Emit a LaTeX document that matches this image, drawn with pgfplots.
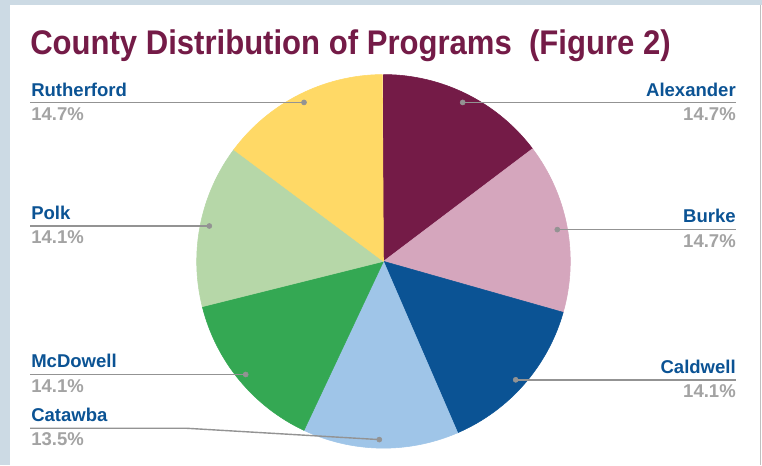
\documentclass[border=0pt]{standalone}
\usepackage{pgfplots}
\usepackage{pgfplotstable}
\pgfplotsset{compat=1.18}
\usepackage{fontspec}
\setmainfont{Liberation Sans}
\definecolor{framebg}{HTML}{CCDAE4}
\definecolor{titlec}{HTML}{741B47}
\definecolor{namec}{HTML}{0B5394}
\definecolor{pctc}{HTML}{A3A3A3}
\definecolor{linec}{HTML}{939393}
\definecolor{c0}{HTML}{741B47}
\definecolor{c1}{HTML}{D5A6BD}
\definecolor{c2}{HTML}{0B5394}
\definecolor{c3}{HTML}{9FC5E8}
\definecolor{c4}{HTML}{34A853}
\definecolor{c5}{HTML}{B6D7A8}
\definecolor{c6}{HTML}{FFD966}
\pgfplotstableread{
county pct
Alexander 14.7
Burke 14.7
Caldwell 14.1
Catawba 13.5
McDowell 14.1
Polk 14.1
Rutherford 14.7
}\piedata
\begin{document}
\begin{tikzpicture}
\def\cum{0}%
\pgfplotsforeachungrouped \i in {0,...,6}{%
  \pgfplotstablegetelem{\i}{pct}\of\piedata
  \pgfmathsetmacro\s{90-3.6*\cum}%
  \pgfmathsetmacro\cum{\cum+\pgfplotsretval}%
  \pgfmathsetmacro\e{90-3.6*\cum}%
  \expandafter\xdef\csname sa\i\endcsname{\s}%
  \expandafter\xdef\csname ea\i\endcsname{\e}%
}%
\begin{axis}[scale only axis, width=571.5pt, height=348pt,
  xmin=0, xmax=762, ymin=0, ymax=464, y dir=reverse,
  hide axis, clip=false]
\fill[framebg] (axis cs:0,0) rectangle (axis cs:762,464);
\fill[white] (axis cs:10,4.5) rectangle (axis cs:762,464);
\draw[gray!50, line width=0.8pt] (axis cs:760.5,4.5) -- (axis cs:760.5,464);
\pgfplotsinvokeforeach{0,...,6}{%
  \filldraw[fill=c#1, draw=c#1, line width=0.4pt, line join=round] (axis cs:383.5,261) -- ++({\csname sa#1\endcsname}:140.1pt)
    arc[start angle={\csname sa#1\endcsname}, end angle={\csname ea#1\endcsname}, radius=140.1pt] -- cycle;
}
% leader lines
\addplot[linec, line width=1.05pt, no markers] coordinates {(30,102.3) (304,102.3)};
\addplot[linec, line width=1.05pt, no markers] coordinates {(30,225.7) (209.3,225.7)};
\addplot[linec, line width=1.05pt, no markers] coordinates {(30,374) (245.7,374)};
\addplot[linec, line width=1.05pt, no markers] coordinates {(30,427.7) (186.7,427.7) (379.3,439)};
\addplot[linec, line width=1.05pt, no markers] coordinates {(462.7,102.3) (736,102.3)};
\addplot[linec, line width=1.05pt, no markers] coordinates {(557.3,229.3) (736,229.3)};
\addplot[linec, line width=1.05pt, no markers] coordinates {(515.7,379.3) (736,379.3)};
\addplot[only marks, mark=*, mark size=1.9pt, linec, mark options={draw=linec, fill=linec}] coordinates {
(304,102.3) (209.3,225.7) (245.7,374) (379.3,439) (462.7,102.3) (557.3,229.3) (515.7,379.3)};
% title
\node[anchor=base west, text=titlec, font=\fontsize{23.3}{28}\selectfont\bfseries, inner sep=0pt, yscale=1.1]
  at (axis cs:30,54.5) {County Distribution of Programs\ \ (Figure 2)};
% labels
\tikzset{nm/.style={inner sep=0pt, text=namec, font=\fontsize{13.9}{16}\selectfont\bfseries},
         pc/.style={inner sep=0pt, text=pctc, font=\fontsize{13.9}{16}\selectfont\bfseries}}
\node[nm, anchor=base west] at (axis cs:31,96) {Rutherford};
\node[pc, anchor=base west] at (axis cs:31,120) {14.7\%};
\node[nm, anchor=base west] at (axis cs:31,219.3) {Polk};
\node[pc, anchor=base west] at (axis cs:31,243) {14.1\%};
\node[nm, anchor=base west] at (axis cs:31,367.3) {McDowell};
\node[pc, anchor=base west] at (axis cs:31,391.7) {14.1\%};
\node[nm, anchor=base west] at (axis cs:31,421) {Catawba};
\node[pc, anchor=base west] at (axis cs:31,445) {13.5\%};
\node[nm, anchor=base east] at (axis cs:736,96) {Alexander};
\node[pc, anchor=base east] at (axis cs:736,120) {14.7\%};
\node[nm, anchor=base east] at (axis cs:736,222.7) {Burke};
\node[pc, anchor=base east] at (axis cs:736,246.7) {14.7\%};
\node[nm, anchor=base east] at (axis cs:736,372.7) {Caldwell};
\node[pc, anchor=base east] at (axis cs:736,396.7) {14.1\%};
\end{axis}
\end{tikzpicture}
\end{document}
